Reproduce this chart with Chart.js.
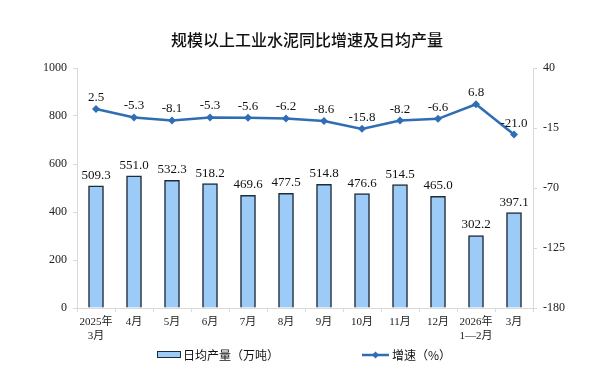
<!DOCTYPE html>
<html><head><meta charset="utf-8">
<script src="https://cdn.jsdelivr.net/npm/chart.js@4/dist/chart.umd.min.js"></script>
<style>html,body{margin:0;padding:0;background:#fff}#wrap{width:604px;height:378px;position:relative}</style>
</head><body><div id="wrap"><canvas id="c" width="604" height="378"></canvas></div>
<script>
const categories = [["2025年","3月"],"4月","5月","6月","7月","8月","9月","10月","11月","12月",["2026年","1—2月"],"3月"];
const dailyOutput = [509.3,551.0,532.3,518.2,469.6,477.5,514.8,476.6,514.5,465.0,302.2,397.1];
const growthRate = [2.5,-5.3,-8.1,-5.3,-5.6,-6.2,-8.6,-15.8,-8.2,-6.6,6.8,-21.0];
const leftTicks = [0,200,400,600,800,1000];
const rightTicks = [-180,-125,-70,-15,40];
const titleText = "规模以上工业水泥同比增速及日均产量";
const legendBar = "日均产量（万吨）";
const legendLine = "增速（%）";

const SERIF = "'Liberation Serif','Times New Roman',serif";
const CJK = "'Noto Sans CJK SC','Noto Sans',sans-serif";
const BAR_FILL = "#9DCBF7", BAR_BORDER = "#1E2B3A", LINE = "#2F6DB5", AXIS = "#D9D9D9";

const extras = {
  id:'extras',
  afterDatasetsDraw(chart){
    const ctx = chart.ctx;
    ctx.save();
    ctx.fillStyle = "#111";
    ctx.font = "13px " + SERIF;
    ctx.textAlign = "center"; ctx.textBaseline = "alphabetic";
    chart.getDatasetMeta(1).data.forEach((b,i)=>{
      ctx.fillText(dailyOutput[i].toFixed(1), b.x, b.y - 7);
    });
    chart.getDatasetMeta(0).data.forEach((p,i)=>{
      ctx.fillText(growthRate[i].toFixed(1), p.x, p.y - 8);
    });
    // title
    ctx.font = "500 16px " + CJK;
    ctx.fillStyle = "#111";
    ctx.textBaseline = "middle";
    ctx.fillText(titleText, 307, 40);
    // legend
    ctx.textAlign = "left";
    ctx.font = "12px " + CJK;
    ctx.fillStyle = BAR_FILL; ctx.strokeStyle = BAR_BORDER; ctx.lineWidth = 1;
    ctx.fillRect(157.5, 351.5, 23, 6); ctx.strokeRect(157.5, 351.5, 23, 6);
    ctx.fillStyle = "#111";
    ctx.fillText(legendBar, 183, 355);
    ctx.strokeStyle = LINE; ctx.lineWidth = 2.5;
    ctx.beginPath(); ctx.moveTo(362, 355); ctx.lineTo(389, 355); ctx.stroke();
    ctx.fillStyle = LINE;
    ctx.beginPath(); ctx.moveTo(375.5,351.5); ctx.lineTo(379,355); ctx.lineTo(375.5,358.5); ctx.lineTo(372,355); ctx.closePath(); ctx.fill();
    ctx.fillStyle = "#111";
    ctx.fillText(legendLine, 392, 355);
    ctx.restore();
  }
};

new Chart(document.getElementById('c'), {
  data: {
    labels: categories,
    datasets: [
      {type:'line', label: legendLine, data: growthRate, yAxisID:'y1', borderColor: LINE, backgroundColor: LINE,
       borderWidth: 2.5, pointStyle:'rectRot', pointRadius: 4, pointBorderWidth: 0, tension: 0, order: 0},
      {type:'bar', label: legendBar, data: dailyOutput, yAxisID:'y', backgroundColor: BAR_FILL, borderColor: BAR_BORDER,
       borderWidth: 1.5, barThickness: 15, order: 1}
    ]
  },
  options: {
    responsive:false, animation:false,
    layout:{padding:{top:68,left:0,right:0,bottom:0}},
    plugins:{legend:{display:false}, tooltip:{enabled:false}, title:{display:false}},
    scales:{
      x:{
        grid:{display:true, drawOnChartArea:false, offset:true, color:AXIS, tickLength:4},
        border:{color:AXIS},
        ticks:{color:"#222", font:{family:SERIF+","+CJK, size:11}, maxRotation:0, autoSkip:false, padding:4},
        afterFit(s){ s.height = 70; }
      },
      y:{
        position:'left', min:0, max:1000,
        afterBuildTicks(s){ s.ticks = leftTicks.map(v=>({value:v})); },
        grid:{display:true, drawOnChartArea:false, color:AXIS, tickLength:4},
        border:{color:AXIS},
        ticks:{color:"#222", font:{family:SERIF, size:12}, padding:6, callback:(v)=>String(v)},
        afterFit(s){ s.width = 77; }
      },
      y1:{
        position:'right', min:-180, max:40,
        afterBuildTicks(s){ s.ticks = rightTicks.map(v=>({value:v})); },
        grid:{display:true, drawOnChartArea:false, color:AXIS, tickLength:4},
        border:{color:AXIS},
        ticks:{color:"#222", font:{family:SERIF, size:12}, padding:6, callback:(v)=>String(v)},
        afterFit(s){ s.width = 71; }
      }
    }
  },
  plugins:[extras]
});
</script></body></html>
